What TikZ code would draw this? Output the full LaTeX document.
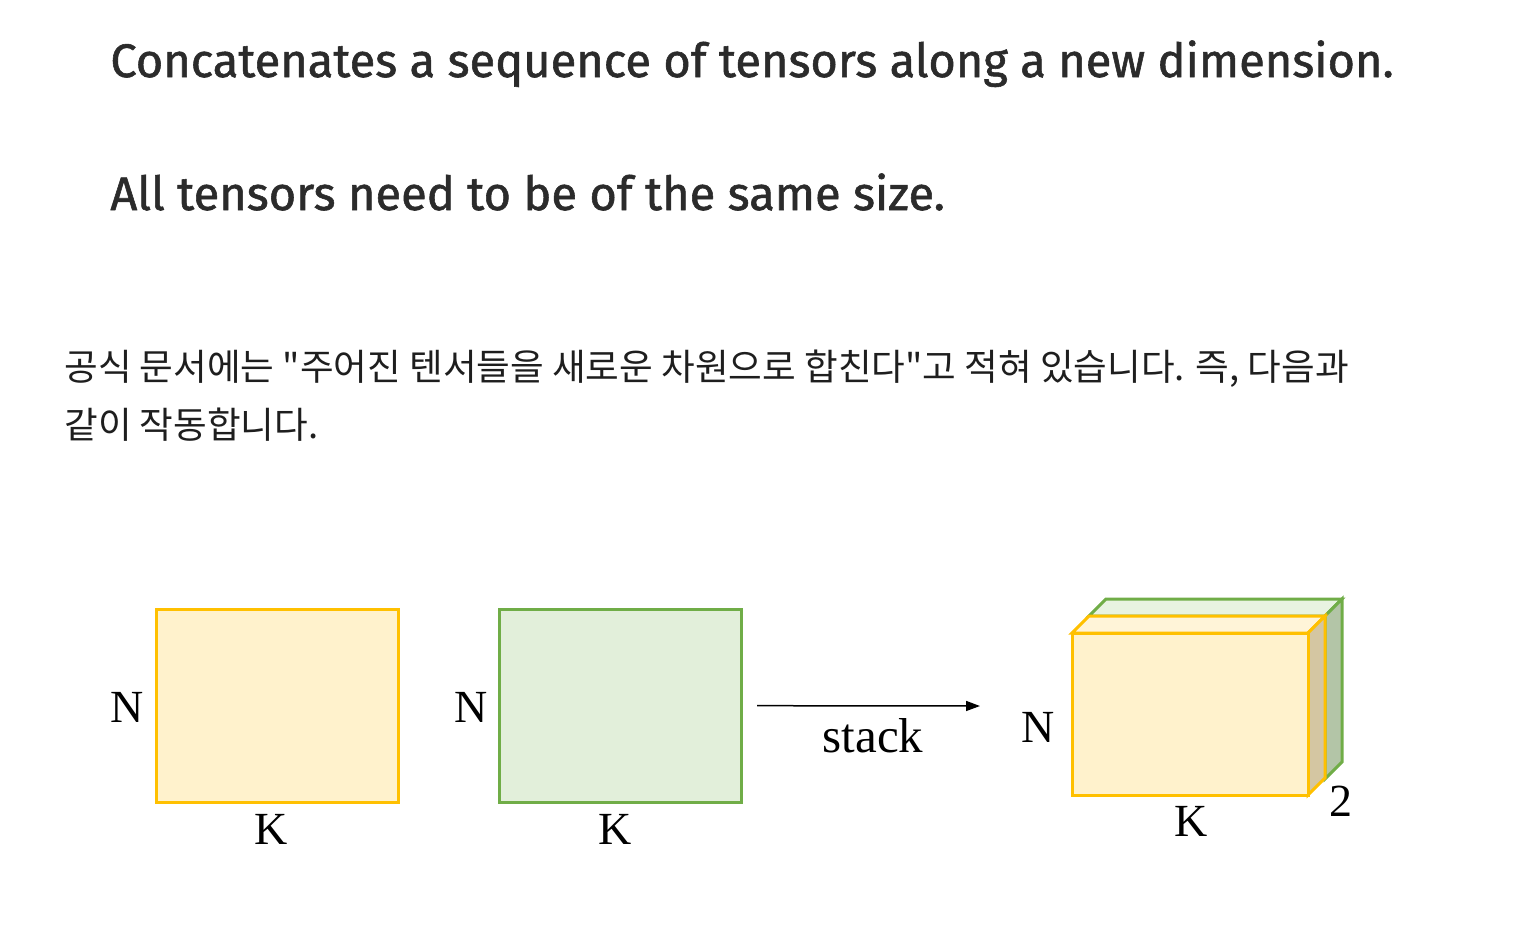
\documentclass[tikz,border=0pt]{standalone}
\usepackage{fontspec}
\setmainfont{Liberation Serif}
\newfontfamily\headfont{Fira Sans}[FakeBold=1.2]
\newfontfamily\kofont{Noto Sans CJK KR}
\usetikzlibrary{arrows.meta}

\definecolor{headgray}{HTML}{2B2B2B}
\definecolor{kotext}{HTML}{1E1E1E}
\definecolor{yfill}{HTML}{FFF2CC}
\definecolor{yline}{HTML}{FFC000}
\definecolor{yside}{HTML}{D4C6A2}
\definecolor{ytop}{HTML}{FFF4D8}
\definecolor{gfill}{HTML}{E2EFDA}
\definecolor{gline}{HTML}{70AD47}
\definecolor{gside}{HTML}{B3C5A7}
\definecolor{gtop}{HTML}{E8F3E1}

\begin{document}
\begin{tikzpicture}[x=0.5pt, y=-0.5pt,
    head/.style={anchor=base west, inner sep=0pt, text=headgray,
      font=\headfont\fontsize{23.5}{28}\selectfont},
    kor/.style={anchor=base west, inner sep=0pt, text=kotext,
      font=\kofont\fontsize{18.3}{22}\selectfont},
    lbl/.style={inner sep=0pt, font=\fontsize{23}{27}\selectfont},
    tensor/.style={line width=1.5pt, minimum width=121pt, minimum height=96.5pt, inner sep=0pt},
    face/.style={line width=1.5pt, line join=miter}]
  \useasboundingbox (0,0) rectangle (1521,932);

  % text above the figure
  \node[head] at (110,77) (h1) {Concatenates a sequence of tensors along a new dimension.};
  \node[head] at (110,210) (h2) {All tensors need to be of the same size.};
  \node[kor] at (64,380) (k1) {공식 문서에는 "주어진 텐서들을 새로운 차원으로 합친다"고 적혀 있습니다. 즉, 다음과};
  \node[kor] at (64,438) (k2) {같이 작동합니다.};

  % the two input tensors
  \node[tensor, draw=yline, fill=yfill] at (277,705.5) (ya) {};
  \node[tensor, draw=gline, fill=gfill] at (620.5,705.5) (gr) {};
  \node[lbl] at (127,707) (nya) {N};
  \node[lbl] at (271,829) (kya) {K};
  \node[lbl] at (471,707) (ngr) {N};
  \node[lbl] at (615,829) (kgr) {K};

  % stack arrow
  \coordinate (tip) at (980,706);
  \draw[-{Triangle[length=7pt, width=5pt]}, line width=0.75pt, shorten <=7pt] (gr) -- (tip);
  \node[lbl, font=\fontsize{24.5}{28}\selectfont] at (873,736) (st) {stack};

  % stacked result, green one behind
  \draw[face, draw=gline, fill=gtop] (1089,616) -- (1106,599) -- (1342,599) -- (1325,616) -- cycle;
  \draw[face, draw=gline, fill=gside] (1325,616) -- (1342,599) -- (1342,762) -- (1325,779) -- cycle;
  \draw[face, draw=yline, fill=ytop] (1072,633) -- (1089,616) -- (1325,616) -- (1308,633) -- cycle;
  \draw[face, draw=yline, fill=yside] (1308,633) -- (1325,616) -- (1325,778) -- (1308,795) -- cycle;
  \node[tensor, draw=yline, fill=yfill, minimum width=118pt, minimum height=81pt] at (1190,714) (cube) {};
  \node[lbl] at (1038,727) (ncube) {N};
  \node[lbl] at (1191,821) (kcube) {K};
  \node[lbl] at (1341,801) (dcube) {2};
\end{tikzpicture}
\end{document}
